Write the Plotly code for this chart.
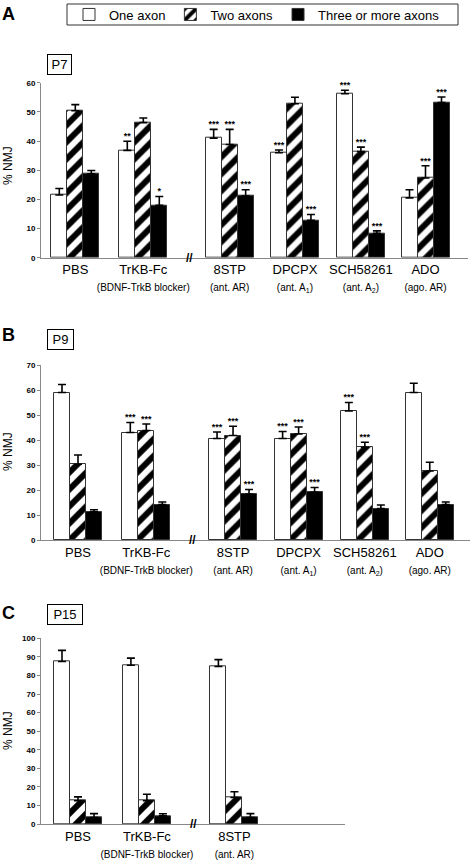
import plotly.graph_objects as go

# ---------------- data ----------------
categories = ["PBS", "TrKB-Fc", "8STP", "DPCPX", "SCH58261", "ADO"]
subtitles = ["", "(BDNF-TrkB blocker)", "(ant. AR)", "(ant. A<sub>1</sub>)",
             "(ant. A<sub>2</sub>)", "(ago. AR)"]
series_names = ["One axon", "Two axons", "Three or more axons"]

# Panel A (P7)
a_one = [21.5, 36.8, 41.0, 36.0, 56.2, 20.5]
a_one_err = [2.2, 3.1, 3.0, 0.9, 1.2, 2.8]
a_two = [50.4, 46.3, 38.8, 52.8, 36.4, 27.3]
a_two_err = [2.1, 1.6, 5.2, 2.2, 1.5, 4.2]
a_three = [28.8, 18.0, 21.1, 12.8, 8.4, 53.2]
a_three_err = [1.1, 3.0, 2.2, 2.0, 0.8, 1.9]
a_one_sig = ["", "**", "***", "***", "***", ""]
a_two_sig = ["", "", "***", "", "***", "***"]
a_three_sig = ["", "*", "***", "***", "***", "***"]

# Panel B (P9)
b_one = [59.0, 43.0, 40.6, 40.6, 51.6, 59.0]
b_one_err = [3.2, 4.0, 2.6, 2.8, 3.4, 3.7]
b_two = [30.3, 43.8, 41.8, 42.4, 37.1, 27.6]
b_two_err = [3.7, 2.6, 3.7, 2.8, 2.0, 3.5]
b_three = [11.3, 14.2, 18.3, 19.1, 12.6, 14.2]
b_three_err = [0.8, 1.0, 1.9, 1.9, 1.4, 1.0]
b_one_sig = ["", "***", "***", "***", "***", ""]
b_two_sig = ["", "***", "***", "***", "***", ""]
b_three_sig = ["", "", "***", "***", "", ""]

# Panel C (P15)
c_one = [87.5, 85.5, 84.8]
c_one_err = [6.0, 3.8, 3.7]
c_two = [12.5, 12.5, 14.3]
c_two_err = [2.1, 3.5, 3.1]
c_three = [3.5, 4.4, 3.5]
c_three_err = [2.1, 1.1, 2.1]
c_one_sig = ["", "", ""]
c_two_sig = ["", "", ""]
c_three_sig = ["", "", ""]

# ---------------- layout constants ----------------
W, H = 473, 861
FONT = "Liberation Sans, Arial, sans-serif"
group_pos = [0, 1, 2.27, 3.23, 4.2, 5.15]
break_pos = 1.68
BAR_PX = 16

styles = [
    dict(color="white", pattern=None),
    dict(color="white", pattern=dict(shape="/", fgcolor="black", bgcolor="white",
                                     fgopacity=1, size=12, solidity=0.5)),
    dict(color="black", pattern=None),
]

panels = [
    dict(letter="A", tag="P7", vals=(a_one, a_two, a_three),
         errs=(a_one_err, a_two_err, a_three_err),
         sigs=(a_one_sig, a_two_sig, a_three_sig), ymax=60,
         x0=41, x1=468, y0=257.7, y1=82.7, p0=75.3, unit=68.0,
         letter_y=14, box=(59.5, 64.5, 21), title_y=166),
    dict(letter="B", tag="P9", vals=(b_one, b_two, b_three),
         errs=(b_one_err, b_two_err, b_three_err),
         sigs=(b_one_sig, b_two_sig, b_three_sig), ymax=70,
         x0=41, x1=470, y0=540, y1=365, p0=78.0, unit=68.3,
         letter_y=335, box=(60.5, 339.5, 23), title_y=452),
    dict(letter="C", tag="P15", vals=(c_one, c_two, c_three),
         errs=(c_one_err, c_two_err, c_three_err),
         sigs=(c_one_sig, c_two_sig, c_three_sig), ymax=100,
         x0=41, x1=345, y0=824, y1=638.3, p0=78.0, unit=68.9,
         letter_y=613, box=(65, 614, 32), title_y=731),
]

fig = go.Figure()
annotations = []

for k, p in enumerate(panels):
    sfx = "" if k == 0 else str(k + 1)
    xref, yref = "x" + sfx, "y" + sfx
    n = len(p["vals"][0])
    pos = group_pos[:n]
    bw = BAR_PX / p["unit"]
    offsets = [-bw, 0.0, bw]
    for s in range(3):
        xs = [q + offsets[s] for q in pos]
        st = styles[s]
        marker = dict(color=st["color"], line=dict(color="#333333", width=1))
        if st["pattern"]:
            marker["pattern"] = st["pattern"]
        fig.add_trace(go.Bar(
            x=xs, y=p["vals"][s], width=bw, marker=marker,
            name=series_names[s], showlegend=(k == 0), legendgroup=series_names[s],
            xaxis=xref, yaxis=yref,
            error_y=dict(type="data", symmetric=False, array=p["errs"][s],
                         arrayminus=[0] * n, color="black", thickness=1.6, width=4),
        ))
        tops = [v + e for v, e in zip(p["vals"][s], p["errs"][s])]
        fig.add_trace(go.Scatter(
            x=xs, y=tops, mode="text", text=p["sigs"][s], textposition="top center",
            textfont=dict(size=9, family=FONT, color="black", weight="bold"),
            showlegend=False, hoverinfo="skip", cliponaxis=False,
            xaxis=xref, yaxis=yref,
        ))

    ticktext = [c if not sb else f"{c}<br><span style='font-size:10px'>{sb}</span>"
                for c, sb in zip(categories[:n], subtitles[:n])]
    fig.update_layout({
        "xaxis" + sfx: dict(
            domain=[p["x0"] / W, p["x1"] / W],
            range=[(p["x0"] - p["p0"]) / p["unit"], (p["x1"] - p["p0"]) / p["unit"]],
            anchor=yref, showline=True, linecolor="#888888", linewidth=1,
            ticks="", tickvals=pos, ticktext=ticktext,
            tickfont=dict(size=13, family=FONT, color="black"),
            showgrid=False, zeroline=False, fixedrange=True, automargin=False),
        "yaxis" + sfx: dict(
            domain=[1 - p["y0"] / H, 1 - p["y1"] / H], range=[0, p["ymax"]],
            anchor=xref, dtick=10, ticks="outside", ticklen=3, tickcolor="#888888",
            showline=True, linecolor="#888888", linewidth=1,
            tickfont=dict(size=8, family=FONT, color="black", weight="bold"),
            showgrid=False, zeroline=False, fixedrange=True, automargin=False),
    })

    annotations.append(dict(text=f"<b>{p['letter']}</b>", x=0 / W, y=1 - p["letter_y"] / H,
                            xref="paper", yref="paper", xanchor="left", yanchor="middle",
                            showarrow=False, font=dict(size=18, family=FONT, color="black")))
    bx, by, bwid = p["box"]
    annotations.append(dict(text=p["tag"], x=bx / W, y=1 - by / H, xref="paper", yref="paper",
                            xanchor="center", yanchor="middle", showarrow=False,
                            width=bwid, height=17, borderpad=1, bordercolor="black",
                            borderwidth=1, font=dict(size=13, family=FONT, color="black")))
    annotations.append(dict(text="% NMJ", x=8 / W, y=1 - p["title_y"] / H,
                            xref="paper", yref="paper", xanchor="center", yanchor="middle",
                            textangle=-90, showarrow=False,
                            font=dict(size=12, family=FONT, color="black")))
    annotations.append(dict(text="<b>//</b>", x=break_pos, y=0, xref=xref, yref=yref,
                            xanchor="center", yanchor="middle", showarrow=False,
                            font=dict(size=12, family=FONT, color="black")))

# legend frame (decoration)
legend_box = dict(type="rect", xref="paper", yref="paper",
                  x0=67 / W, x1=458 / W, y0=1 - 25 / H, y1=1 - 4 / H,
                  line=dict(color="#333333", width=1), fillcolor="rgba(0,0,0,0)")

fig.update_layout(
    width=W, height=H, margin=dict(l=0, r=0, t=0, b=0, autoexpand=False),
    paper_bgcolor="white", plot_bgcolor="white",
    barmode="overlay", bargap=0,
    font=dict(family=FONT, color="black"),
    annotations=annotations,
    shapes=[legend_box],
    legend=dict(orientation="h", x=69 / W, y=1 - 14.5 / H, xanchor="left", yanchor="middle",
                borderwidth=0, bgcolor="rgba(0,0,0,0)",
                font=dict(size=13, family=FONT, color="black"),
                itemclick=False, itemdoubleclick=False, traceorder="normal"),
)

fig.write_html("out.html", config={"displayModeBar": False},
               post_script="document.body.style.margin='0';document.body.style.padding='0';")
